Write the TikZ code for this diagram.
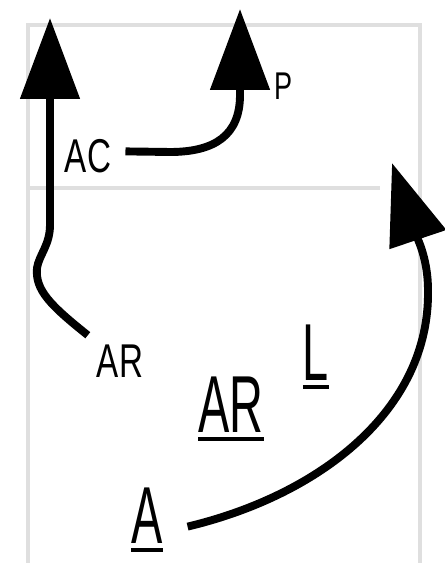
\documentclass[tikz,border=0pt]{standalone}
\usepackage{fontspec}
\setmainfont{Liberation Sans}
\usepackage{graphicx}
\usetikzlibrary{arrows.meta}
\tikzset{
  frm/.style={draw=gray!25,line width=2.3pt},
  flow/.style={line width=4.5pt,-{Triangle[length=46pt,width=33pt]}},
  lbl/.style={inner sep=0pt,anchor=base,font=\fontsize{27}{30}\selectfont},
  big/.style={inner sep=0pt,anchor=base,font=\fontsize{46}{50}\selectfont}
}
\newcommand\nar[1]{\scalebox{0.7}[1]{#1}}
\newcommand\wide[1]{\scalebox{0.58}[1]{\vtop{\hbox{#1}\kern3pt\hrule height 2pt}}}

\begin{document}
\begin{tikzpicture}[x=0.02cm,y=-0.02cm]
        \useasboundingbox (0,0) rectangle (444,563);%
        % frame
        \draw[frm] (28,563) -- (28,25) -- (420,25) -- (420,563);%
        \draw[frm] (28,188) -- (380,188);%
        % labels
        \node[lbl] (ac) at (88,173) {\nar{AC}};%
        \node[lbl,font=\fontsize{22}{24}\selectfont] (p) at (284,100) {\nar{P}};%
        \node[lbl] (ar) at (120,377) {\nar{AR}};%
        \node[big] (arr) at (231,432) {\wide{AR}};%
        \node[big] (l) at (316,380) {\wide{L}};%
        \node[big] (a) at (147,543) {\wide{A}};%
        \coordinate (tipl) at (50,18);%
        \coordinate (tipp) at (240,9);%
        \coordinate (tipr) at (392,163);%
        % arrows
        \draw[flow] ([xshift=-5pt,yshift=5pt]ar.north west) .. controls (50,305) and (35,290) .. (37,268) .. controls (39,255) and (50,245) .. (50,225) -- (tipl);%
        \draw[flow] ([xshift=8pt,yshift=3pt]ac.east) -- (170,152) .. controls (215,152) and (240,135) .. (240,95) -- (tipp);%
        \draw[flow] ([xshift=14pt,yshift=-4pt]a.east) .. controls (320,495) and (430,410) .. (428,290) .. controls (428,260) and (418,240) .. (tipr);%
      \end{tikzpicture}
\end{document}
